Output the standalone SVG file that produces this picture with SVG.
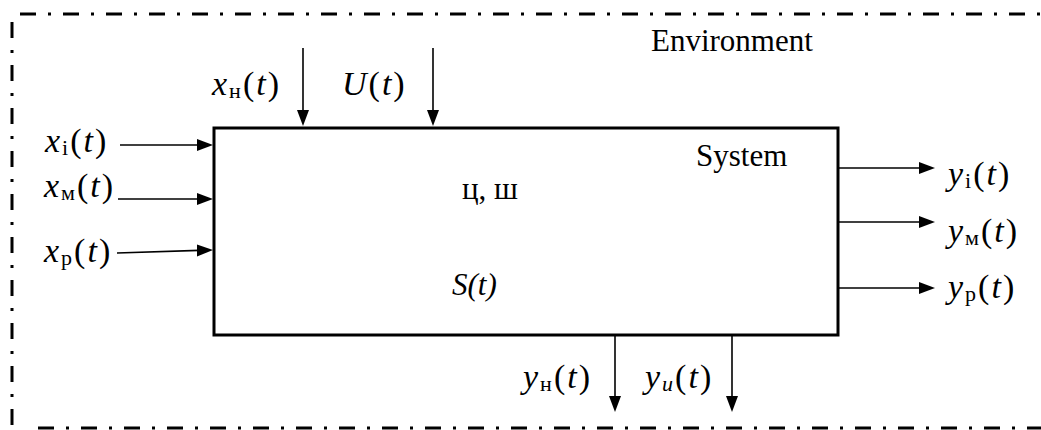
<svg xmlns="http://www.w3.org/2000/svg" width="1041" height="430" viewBox="0 0 1041 430">
<g id="environment">
<g fill="none" stroke="#000" stroke-width="3" stroke-dasharray="16 12 3 12">
<path d="M20,14 L1041,14"/>
<path d="M12,22 L12,425"/>
<path d="M38,428 L1041,428"/>
</g>
<text x="651" y="51" font-family="Liberation Serif" font-size="31">Environment</text>
</g>
<g id="system">
<rect x="214" y="128" width="624" height="207" fill="#fff" stroke="#000" stroke-width="3"/>
<text x="696" y="166" font-family="Liberation Serif" font-size="31">System</text>
<text x="462" y="199" font-family="Liberation Serif" font-size="31">ц, ш</text>
<text x="452" y="295" font-family="Liberation Serif" font-size="31" font-style="italic">S(t)</text>
</g>
<g id="connectors">
<g fill="none" stroke="#000" stroke-width="1.6">
<line x1="303" y1="48" x2="303" y2="112"/>
<line x1="433" y1="48" x2="433" y2="112"/>
<line x1="120" y1="145" x2="199" y2="145"/>
<line x1="118" y1="199" x2="199" y2="199"/>
<line x1="117" y1="253" x2="199" y2="250.4"/>
<line x1="838" y1="168" x2="921" y2="168"/>
<line x1="838" y1="222" x2="921" y2="222"/>
<line x1="838" y1="288" x2="921" y2="288"/>
<line x1="615" y1="335" x2="615" y2="398"/>
<line x1="732" y1="335" x2="732" y2="398"/>
</g>
<g fill="#000">
<path d="M297,110 L309,110 L303,126 Z"/>
<path d="M427,110 L439,110 L433,126 Z"/>
<path d="M197,139 L197,151 L213,145 Z"/>
<path d="M197,193 L197,205 L213,199 Z"/>
<path d="M197,244.5 L197,256.5 L213,250 Z"/>
<path d="M919,162 L919,174 L935,168 Z"/>
<path d="M919,216 L919,228 L935,222 Z"/>
<path d="M919,282 L919,294 L935,288 Z"/>
<path d="M609,396 L621,396 L615,412 Z"/>
<path d="M726,396 L738,396 L732,412 Z"/>
</g>
</g>
<g id="labels">
<text x="212" y="95" font-family="Liberation Serif" font-size="34" letter-spacing="2"><tspan font-style="italic">x</tspan><tspan font-size="22" dy="3">н</tspan><tspan dy="-3">(</tspan><tspan font-style="italic">t</tspan>)</text>
<text x="342" y="95" font-family="Liberation Serif" font-size="34" letter-spacing="2"><tspan font-style="italic">U</tspan>(<tspan font-style="italic">t</tspan>)</text>
<text x="45" y="152" font-family="Liberation Serif" font-size="34" letter-spacing="2"><tspan font-style="italic">x</tspan><tspan font-size="22" dy="3">i</tspan><tspan dy="-3">(</tspan><tspan font-style="italic">t</tspan>)</text>
<text x="44" y="197" font-family="Liberation Serif" font-size="34" letter-spacing="2"><tspan font-style="italic">x</tspan><tspan font-size="22" dy="3">м</tspan><tspan dy="-3">(</tspan><tspan font-style="italic">t</tspan>)</text>
<text x="44" y="262" font-family="Liberation Serif" font-size="34" letter-spacing="2"><tspan font-style="italic">x</tspan><tspan font-size="22" dy="3">p</tspan><tspan dy="-3">(</tspan><tspan font-style="italic">t</tspan>)</text>
<text x="948" y="185" font-family="Liberation Serif" font-size="34" letter-spacing="2"><tspan font-style="italic">y</tspan><tspan font-size="22" dy="3">i</tspan><tspan dy="-3">(</tspan><tspan font-style="italic">t</tspan>)</text>
<text x="948" y="242" font-family="Liberation Serif" font-size="34" letter-spacing="2"><tspan font-style="italic">y</tspan><tspan font-size="22" dy="3">м</tspan><tspan dy="-3">(</tspan><tspan font-style="italic">t</tspan>)</text>
<text x="948" y="298" font-family="Liberation Serif" font-size="34" letter-spacing="2"><tspan font-style="italic">y</tspan><tspan font-size="22" dy="3">p</tspan><tspan dy="-3">(</tspan><tspan font-style="italic">t</tspan>)</text>
<text x="523" y="388" font-family="Liberation Serif" font-size="34" letter-spacing="2"><tspan font-style="italic">y</tspan><tspan font-size="22" dy="3">н</tspan><tspan dy="-3">(</tspan><tspan font-style="italic">t</tspan>)</text>
<text x="645" y="388" font-family="Liberation Serif" font-size="34" letter-spacing="2"><tspan font-style="italic">y</tspan><tspan font-size="22" font-style="italic" dy="3">u</tspan><tspan dy="-3">(</tspan><tspan font-style="italic">t</tspan>)</text>
</g>
</svg>
